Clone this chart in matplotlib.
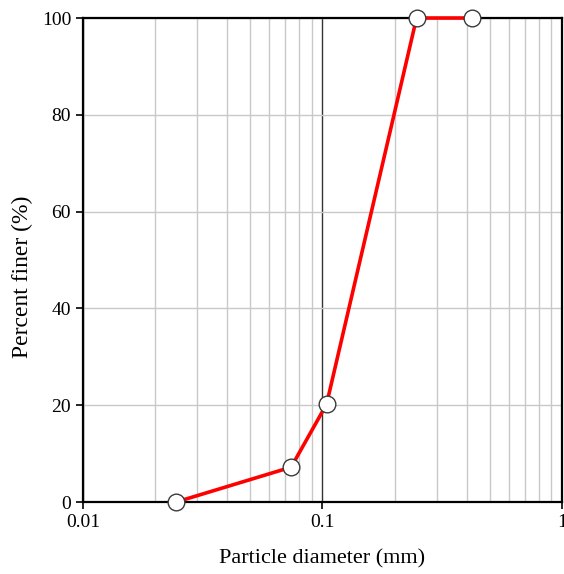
import matplotlib
matplotlib.use("Agg")
import matplotlib.pyplot as plt
from matplotlib.ticker import LogLocator, NullFormatter

diameter = [0.0245, 0.074, 0.104, 0.247, 0.42]
finer = [0, 7.2, 20.2, 100, 100]
x_ticks = [0.01, 0.1, 1]
x_labels = ["0.01", "0.1", "1"]
y_ticks = [0, 20, 40, 60, 80, 100]

plt.rcParams['font.family'] = ['Liberation Serif', 'DejaVu Serif']

fig = plt.figure(figsize=(5.64, 5.74), dpi=100)
ax = fig.add_axes([0.147, 0.1254, 0.8495, 0.8432])
ax.set_xscale('log')
ax.set_xlim(0.01, 1)
ax.set_ylim(0, 100)

ax.xaxis.set_minor_locator(LogLocator(base=10, subs=range(2, 10)))
ax.xaxis.set_minor_formatter(NullFormatter())
ax.grid(True, which='minor', axis='x', color='#c8c8c8', linewidth=1.0)
ax.grid(True, which='major', axis='x', color='#333333', linewidth=1.0)
ax.grid(True, which='major', axis='y', color='#c8c8c8', linewidth=1.0)
ax.set_axisbelow(True)

ax.plot(diameter, finer, color='#ff0000', linewidth=2.6, marker='o',
        markersize=12, markerfacecolor='white', markeredgecolor='#3a3a3a',
        markeredgewidth=1.0, zorder=3, clip_on=False)

ax.set_xticks(x_ticks)
ax.set_xticklabels(x_labels)
ax.set_yticks(y_ticks)
ax.tick_params(axis='both', which='major', labelsize=14, length=5, width=1.2,
               direction='out', colors='black')
ax.tick_params(axis='x', which='minor', length=0)

for s in ax.spines.values():
    s.set_linewidth(1.6)
    s.set_color('black')

ax.set_xlabel('Particle diameter (mm)', fontsize=16, labelpad=13)
ax.set_ylabel('Percent finer (%)', fontsize=17, labelpad=6)
ax.yaxis.label.set_y(0.465)

fig.savefig('out.png', dpi=100)
